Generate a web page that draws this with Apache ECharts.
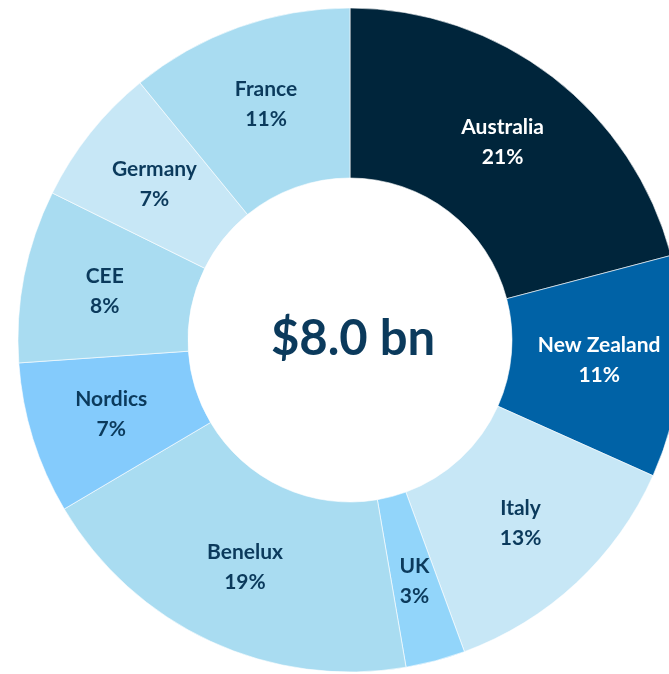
<!DOCTYPE html>
<html>
<head>
<meta charset="utf-8">
<script src="https://cdn.jsdelivr.net/npm/echarts@6/dist/echarts.min.js"></script>
<style>
  html, body { margin: 0; padding: 0; background: #fff; }
  #chart { width: 669px; height: 674px; }
</style>
</head>
<body>
<div id="chart"></div>
<script>
// slices, clockwise from 12 o'clock
const regions = ['Australia', 'New Zealand', 'Italy', 'UK', 'Benelux', 'Nordics', 'CEE', 'Germany', 'France'];
// unrounded shares, labels show rounded figures
const shares = [20.9, 10.8, 12.7, 2.9, 19.2, 7.4, 8.4, 6.8, 10.9];
const shareLabels = ['21%', '11%', '13%', '3%', '19%', '7%', '8%', '7%', '11%'];
const sliceColors = ['#00253B', '#0062A6', '#C7E7F6', '#92D5FA', '#A9DCF1', '#84CBFC', '#A9DCF1', '#C7E7F6', '#A9DCF1'];
const labelColors = ['#ffffff', '#ffffff', '#0B3A5C', '#0B3A5C', '#0B3A5C', '#0B3A5C', '#0B3A5C', '#0B3A5C', '#0B3A5C'];
const totalText = '$8.0 bn';

const chart = echarts.init(document.getElementById('chart'));

const pieData = regions.map((name, i) => ({
  name: name,
  value: shares[i],
  pct: shareLabels[i],
  itemStyle: { color: sliceColors[i] },
  label: { color: labelColors[i] },
}));

chart.setOption({
  animation: false,
  graphic: [
    {
      type: 'text',
      x: 353,
      y: 339,
      style: {
        text: totalText,
        align: 'center',
        verticalAlign: 'middle',
        font: 'bold 49px Lato, "Open Sans", sans-serif',
        fill: '#0B3A5C',
      },
    },
  ],
  series: [
    {
      type: 'pie',
      center: [350, 340],
      radius: [162, 332],
      startAngle: 90,
      clockwise: true,
      avoidLabelOverlap: false,
      itemStyle: { borderColor: '#ffffff', borderWidth: 0.6 },
      label: {
        show: true,
        position: 'inside',
        formatter: (p) => p.name + '\n' + shareLabels[p.dataIndex],
        fontFamily: 'Lato, "Open Sans", sans-serif',
        fontWeight: 'bold',
        fontSize: 21,
        lineHeight: 30,
      },
      labelLine: { show: false },
      emphasis: { disabled: true },
      data: pieData,
    },
  ],
});
</script>
</body>
</html>
